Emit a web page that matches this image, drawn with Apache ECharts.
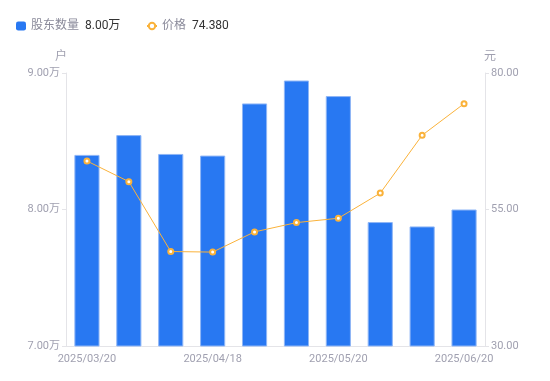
<!DOCTYPE html>
<html><head><meta charset="utf-8">
<script src="https://cdn.jsdelivr.net/npm/echarts@6/dist/echarts.min.js"></script>
<style>html,body{margin:0;padding:0;background:#fff}#c{width:550px;height:381px}</style>
</head><body><div id="c"></div>
<script>
const categories = ['2025/03/20','2025/03/31','2025/04/10','2025/04/18','2025/04/30','2025/05/09','2025/05/20','2025/05/30','2025/06/10','2025/06/20'];
const holders = [84000, 85450, 84070, 83950, 87770, 89450, 88310, 79080, 78760, 80000];
const prices = [63.88, 60.10, 47.30, 47.20, 50.90, 52.60, 53.40, 58.00, 68.60, 74.38];
const leftTicks = [70000, 80000, 90000];
const rightTicks = [30, 55, 80];

const chart = echarts.init(document.getElementById('c'));
const fam = 'Roboto, "Noto Sans CJK SC", sans-serif';
const lastH = (holders[holders.length-1]/10000).toFixed(2) + '万';
const lastP = prices[prices.length-1].toFixed(3);
const legendText = { fontFamily: fam, fontSize: 12, rich: {
  n: { color: '#8a8a9a', fontSize: 12, fontFamily: fam, padding: [0, 3, 0, 0] },
  v: { color: '#333', fontSize: 12, fontFamily: fam }
}};
const fmt = function (name) {
  return name === '股东数量' ? '{n|' + name + '} {v|' + lastH + '}' : '{n|' + name + '} {v|' + lastP + '}';
};
chart.setOption({
  animation: false,
  legend: [
    { left: 11, top: 15, itemWidth: 10, itemHeight: 9, textStyle: legendText,
      itemStyle: { borderWidth: 0 },
      data: [{ name: '股东数量', icon: 'roundRect' }], formatter: fmt },
    { left: 141, top: 15, itemWidth: 10, itemHeight: 8, textStyle: legendText,
      data: ['价格'], formatter: fmt }
  ],
  grid: { left: 66, right: 65, top: 73, bottom: 35 },
  xAxis: {
    type: 'category', data: categories,
    axisLine: { lineStyle: { color: '#e4e4e8' } },
    axisTick: { show: false },
    axisLabel: { interval: 2, color: '#a0a0b0', fontSize: 11, fontFamily: fam, margin: 8 }
  },
  yAxis: [
    { type: 'value', name: '户', min: leftTicks[0], max: leftTicks[2], interval: 10000,
      nameTextStyle: { color: '#a0a0b0', fontSize: 12, fontFamily: fam, padding: [0, 0, 0, -10] }, nameGap: 10,
      axisLine: { show: true, lineStyle: { color: '#e4e4e8' } },
      axisTick: { show: true, length: 4, lineStyle: { color: '#e4e4e8' } },
      splitLine: { show: false },
      axisLabel: { color: '#a0a0b0', fontSize: 11, fontFamily: fam, margin: 6,
        formatter: v => (v/10000).toFixed(2) + '万' } },
    { type: 'value', name: '元', min: rightTicks[0], max: rightTicks[2], interval: 25,
      nameTextStyle: { color: '#a0a0b0', fontSize: 12, fontFamily: fam, padding: [0, 0, 0, 10] }, nameGap: 10,
      axisLine: { show: true, lineStyle: { color: '#e4e4e8' } },
      axisTick: { show: true, length: 4, lineStyle: { color: '#e4e4e8' } },
      splitLine: { show: false },
      axisLabel: { color: '#a0a0b0', fontSize: 11, fontFamily: fam, margin: 6,
        formatter: v => v.toFixed(2) } }
  ],
  series: [
    { name: '股东数量', type: 'bar', data: holders, barWidth: '60%', yAxisIndex: 0,
      itemStyle: { color: '#2878F2', borderColor: '#8fb6f6', borderWidth: 1 } },
    { name: '价格', type: 'line', data: prices, yAxisIndex: 1,
      symbol: 'emptyCircle', symbolSize: 5,
      lineStyle: { color: '#FAB23A', width: 1 },
      itemStyle: { color: '#FAB23A', borderWidth: 2 } }
  ]
});
</script></body></html>
